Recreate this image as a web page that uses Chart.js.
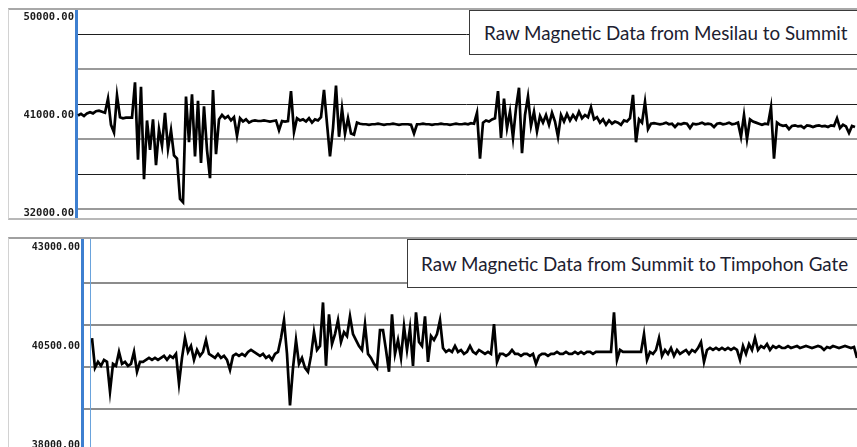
<!DOCTYPE html>
<html><head><meta charset="utf-8">
<script src="https://cdn.jsdelivr.net/npm/chart.js@4"></script>
<style>
html,body{margin:0;padding:0;background:#fff;width:857px;height:447px;overflow:hidden;position:relative;}
.panel{position:absolute;left:8px;width:849px;border-left:1px solid #d2d2d2;box-sizing:border-box;}
#p1{top:8px;height:212px;border-top:2px solid #a8a8a8;border-bottom:2px solid #b8b8b8;}
#p2{top:237px;height:215px;border-top:2px solid #a0a0a0;}
canvas{display:block;}
.tbox{position:absolute;background:#fff;border:1.5px solid #3a3a3a;border-right:none;font-family:Lato,'Open Sans',sans-serif;color:#202030;display:flex;align-items:center;white-space:nowrap;box-sizing:border-box;width:520px;}
#t1{left:469px;top:10px;height:45px;padding-left:14px;font-size:18.8px;}
#t2{left:407px;top:239px;height:49px;padding-left:13px;font-size:18.8px;}
#cursor{position:absolute;left:90px;top:239px;width:1px;height:210px;background:#6aa3dc;}
</style></head>
<body>
<div class="panel" id="p1"><canvas id="c1" width="848" height="208"></canvas></div>
<div class="panel" id="p2"><canvas id="c2" width="848" height="211"></canvas></div>
<div id="cursor"></div>
<div class="tbox" id="t1"></div>
<div class="tbox" id="t2"></div>
<script>
// ---- data ----
const topTitle = "Raw Magnetic Data from Mesilau to Summit";
const bottomTitle = "Raw Magnetic Data from Summit to Timpohon Gate";
const topTicks = [32000, 41000, 50000];
const bottomTicks = [38000, 40500, 43000];
const topField = [
40950, 41100, 40900, 41150, 41250, 41150, 41350, 41400, 41300, 41200,
42500, 40100, 39400, 42800, 40800, 40700, 40750, 40750, 40750, 44000,
36900, 43600, 35100, 40500, 37800, 40600, 36400, 39700, 38200, 41200,
37900, 39600, 37300, 37000, 33300, 33000, 42700, 38500, 42900, 37200,
42300, 36600, 41800, 37800, 35200, 43300, 37400, 40600, 41000, 40700,
40900, 40500, 40800, 39100, 40700, 40400, 40600, 40300, 40450, 40500,
40450, 40450, 40500, 40450, 40400, 40450, 40500, 39600, 40450, 40400,
40450, 43200, 39450, 40700, 40500, 40600, 40400, 40700, 40300, 40600,
40500, 40800, 43300, 40200, 37200, 39800, 43700, 39000, 41600, 39300,
40700, 39300, 39200, 40300, 40200, 40150, 40150, 40100, 40150, 40150,
40200, 40150, 40100, 40150, 40150, 40200, 40150, 40100, 40150, 40150,
40150, 40100, 39300, 40150, 40150, 40200, 40150, 40150, 40100, 40150,
40150, 40200, 40150, 40150, 40100, 40150, 40200, 40150, 40150, 40200,
40150, 40250, 40200, 41200, 37000, 40300, 40500, 40400, 40600, 40700,
43200, 38900, 42500, 39800, 41300, 38900, 41600, 43500, 37500, 41000,
42700, 40000, 41300, 39500, 40900, 40300, 41000, 40100, 41200, 40400,
39000, 41000, 40400, 41100, 40500, 41000, 40600, 41300, 40700, 41000,
40800, 41700, 40600, 40800, 40300, 40600, 40100, 40500, 40200, 40400,
40300, 40100, 40500, 40400, 40700, 42850, 38500, 40600, 40300, 42200,
39700, 40200, 40250, 40200, 40150, 40200, 40300, 40150, 40200, 39900,
40200, 40150, 40250, 40200, 39800, 40200, 40150, 40200, 40300, 40150,
40200, 40150, 39900, 40200, 40250, 40150, 40200, 40300, 40150, 40200,
40300, 39000, 41000, 38800, 40600, 40400, 40300, 40200, 40100, 40200,
40150, 41700, 37000, 40300, 40100, 40000, 40050, 39700, 40000, 40050,
39950, 40000, 39800, 40050, 40000, 39900, 40000, 40050, 39950, 40000,
39900, 40050, 40000, 40700, 39800, 40100, 39950, 39350, 40000, 39900
];
const bottomField = [
40700, 39950, 40100, 40000, 40150, 40100, 39350, 40050, 40000, 40350,
40050, 40100, 40000, 40050, 40350, 39850, 40100, 40100, 40150, 40200,
40150, 40200, 40150, 40200, 40250, 40150, 40250, 40200, 40300, 39550,
40200, 40700, 40350, 40500, 40150, 40400, 40250, 40350, 40650, 40300,
40250, 40200, 40300, 40200, 40250, 40150, 39900, 40250, 40300, 40250,
40300, 40250, 40350, 40400, 40350, 40300, 40250, 40300, 40200, 40250,
40150, 40300, 40350, 40700, 41150, 40300, 39000, 39950, 40650, 40050,
40200, 39950, 39850, 40250, 40850, 40400, 40500, 41600, 40000, 41300,
40550, 40800, 41150, 40600, 40850, 40750, 41250, 40800, 40650, 40500,
40400, 41050, 40300, 40200, 40050, 39950, 40900, 40900, 40400, 39850,
41300, 40300, 40650, 40200, 41000, 40400, 40950, 40000, 41350, 40600,
40500, 41250, 40100, 40750, 40650, 40800, 41150, 40450, 40350, 40400,
40350, 40500, 40350, 40400, 40300, 40350, 40500, 40350, 40300, 40400,
40350, 40300, 40350, 40300, 41050, 40100, 40300, 40300, 40250, 40300,
40400, 40300, 40300, 40250, 40300, 40300, 40250, 40300, 40050, 40250,
40300, 40300, 40250, 40300, 40300, 40350, 40300, 40300, 40350, 40300,
40300, 40350, 40300, 40350, 40300, 40350, 40350, 40300, 40350, 40350,
40350, 40350, 40350, 40350, 41350, 40150, 40400, 40350, 40350, 40350,
40350, 40350, 40350, 40350, 40800, 40150, 40350, 40300, 40400, 40700,
40250, 40400, 40300, 40450, 40250, 40400, 40300, 40350, 40400, 40300,
40400, 40350, 40450, 40600, 40100, 40400, 40450, 40400, 40450, 40400,
40450, 40400, 40450, 40400, 40450, 40400, 40150, 40500, 40300, 40550,
40400, 40700, 40400, 40500, 40450, 40550, 40400, 40500, 40450, 40500,
40450, 40450, 40500, 40450, 40475, 40500, 40450, 40475, 40500, 40475,
40450, 40475, 40500, 40475, 40400, 40475, 40450, 40500, 40475, 40450,
40475, 40500, 40475, 40450, 40475, 40200
];

document.getElementById('t1').textContent = topTitle;
document.getElementById('t2').textContent = bottomTitle;

function makeChart(id, values, cfg) {
  const pts = values.map((v, i) => ({x: i, y: v}));
  return new Chart(document.getElementById(id), {
    type: 'line',
    data: {datasets: [{data: pts, borderColor: '#000', borderWidth: 2.7, pointRadius: 0, tension: 0, fill: false, borderJoinStyle: 'miter'}]},
    options: {
      responsive: false, animation: false, events: [],
      plugins: {legend: {display: false}, tooltip: {enabled: false}},
      layout: {padding: 0},
      scales: {
        x: {type: 'linear', min: cfg.xMin, max: cfg.xMax, display: false},
        y: {
          type: 'linear', position: 'left', min: cfg.yMin, max: cfg.yMax,
          afterBuildTicks: s => { s.ticks = cfg.ticks.map(v => ({value: v})); },
          grid: {display: false, drawTicks: false},
          border: {display: true, color: '#3d7fd0', width: 3},
          ticks: {padding: 2, color: '#1a1a1a', font: {family: 'DejaVu Sans Mono', weight: 'bold', size: cfg.fontSize},
                  callback: v => Number(v).toFixed(2)},
          afterFit: s => { s.width = cfg.axisWidth; s.paddingTop = 0; s.paddingBottom = 0; }
        },
        g: {
          type: 'linear', position: 'right', min: cfg.gMin, max: cfg.gMax,
          afterBuildTicks: s => { s.ticks = cfg.gTicks.map(v => ({value: v})); },
          grid: {display: true, drawTicks: false, color: cfg.gColor, lineWidth: cfg.gWidth},
          border: {display: false},
          ticks: {display: false},
          afterFit: s => { s.width = 0; s.paddingTop = 0; s.paddingBottom = 0; }
        }
      }
    }
  });
}

makeChart('c1', topField, {
  xMin: -0.667, xMax: topField.length - 1 + 0.667,
  yMin: 31541, yMax: 50643, ticks: topTicks, fontSize: 10.5, axisWidth: 67,
  gMin: -0.257, gMax: 5.686, gTicks: [0, 1, 2, 3, 4, 5],
  gColor: c => (c.tick && c.tick.value % 2 === 1) ? '#1e1e1e' : '#9a9a9a',
  gWidth: c => (c.tick && c.tick.value % 2 === 1) ? 1 : 2
});

makeChart('c2', bottomField, {
  xMin: -3.333, xMax: bottomField.length - 1,
  yMin: 37874, yMax: 43202, ticks: bottomTicks, fontSize: 10, axisWidth: 73,
  gMin: -0.976, gMax: 4.048, gTicks: [0, 1, 2, 3],
  gColor: '#8c8c8c', gWidth: 2
});
</script>
</body></html>
